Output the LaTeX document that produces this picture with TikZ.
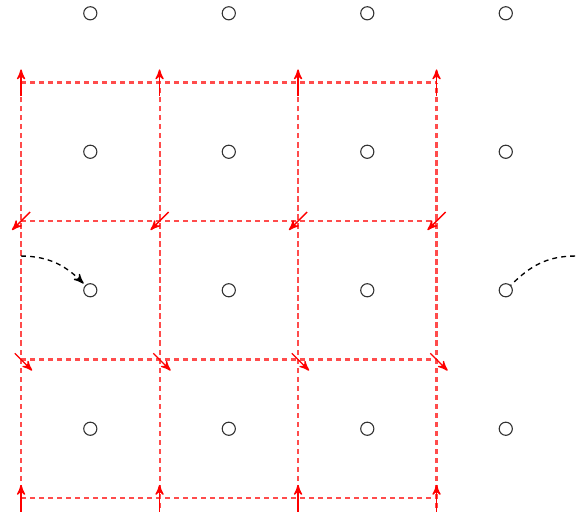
\documentclass[tikz,border=0pt]{standalone}
\usetikzlibrary{arrows}

\begin{document}
\begin{tikzpicture}[x=2cm,y=2cm,>=stealth',
                    site/.style={circle,draw=black!80,line width=0.45pt,minimum size=0.19cm,inner sep=0pt},
                    grid line/.style={red!70,line width=0.85pt,dash pattern=on 2.1pt off 1.6pt},
                    flux/.style={->,red,line width=0.55pt},
                    hop/.style={black,line width=0.55pt,dash pattern=on 2pt off 1.7pt}]

  \useasboundingbox (-0.152,-0.101) rectangle (4.007,3.596);
  \clip (-0.152,-0.101) rectangle (4.007,3.596);

  % sites
  \foreach \i in {0,...,3}
    \foreach \j in {0,...,3}
      \node[site] (c-\i-\j) at (\i+0.5,\j+0.5) {};

  % dashed cell boundaries
  \foreach \j in {0,...,3}
    \draw[grid line] (0,\j) -- (3,\j);
  \foreach \i in {0,...,3}
    \draw[grid line] (\i,-0.2) -- (\i,3);

  % arrows on the crossings
  \foreach \i in {0,...,3} {
    \coordinate (b-\i) at (\i,0);
    \coordinate (t-\i) at (\i,3);
    \coordinate (m-\i) at (\i,2);
    \coordinate (l-\i) at (\i,1);
    \draw[flux] ([yshift=-0.2cm]b-\i) -- ([yshift=0.19cm]b-\i);
    \draw[flux] ([yshift=-0.2cm]t-\i) -- ([yshift=0.19cm]t-\i);
    \draw[flux] ([shift={(0.13cm,0.13cm)}]m-\i) -- ([shift={(-0.13cm,-0.13cm)}]m-\i);
    \draw[flux] ([shift={(-0.09cm,0.09cm)}]l-\i) -- ([shift={(0.16cm,-0.16cm)}]l-\i);
  }

  % hops into the middle row
  \coordinate (in) at (0,1.747);
  \coordinate (out) at (4.0,1.747);
  \draw[hop,->,shorten >=1pt] (in) to[out=0,in=135] (c-0-1);
  \draw[hop] (out) to[out=180,in=45] (c-3-1);
\end{tikzpicture}
\end{document}
